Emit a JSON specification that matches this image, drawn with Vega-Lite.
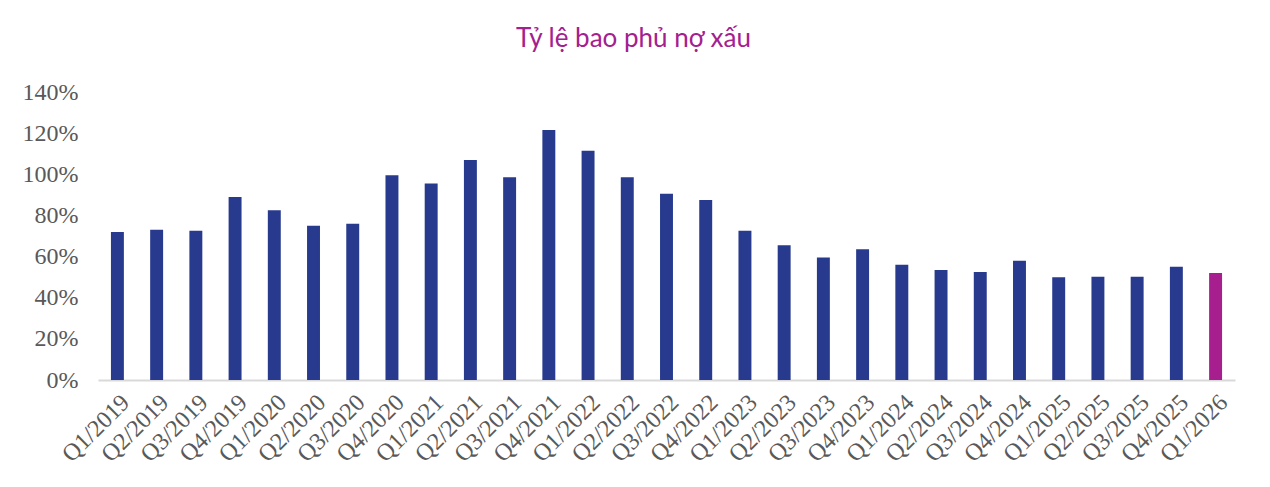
{
  "$schema": "https://vega.github.io/schema/vega-lite/v6.json",
  "width": 1137,
  "height": 288,
  "autosize": {"type": "none"},
  "padding": {"left": 98, "right": 35, "top": 92, "bottom": 107},
  "background": "white",
  "title": {
    "text": "Tỷ lệ bao phủ nợ xấu",
    "font": "Lato",
    "fontSize": 26,
    "fontWeight": "normal",
    "color": "#A4208F",
    "anchor": "middle",
    "dx": -33,
    "offset": 28
  },
  "data": {
    "values": [
      {"q": "Q1/2019", "v": 0.72, "hl": "n"},
      {"q": "Q2/2019", "v": 0.73, "hl": "n"},
      {"q": "Q3/2019", "v": 0.725, "hl": "n"},
      {"q": "Q4/2019", "v": 0.89, "hl": "n"},
      {"q": "Q1/2020", "v": 0.825, "hl": "n"},
      {"q": "Q2/2020", "v": 0.75, "hl": "n"},
      {"q": "Q3/2020", "v": 0.76, "hl": "n"},
      {"q": "Q4/2020", "v": 0.995, "hl": "n"},
      {"q": "Q1/2021", "v": 0.955, "hl": "n"},
      {"q": "Q2/2021", "v": 1.07, "hl": "n"},
      {"q": "Q3/2021", "v": 0.985, "hl": "n"},
      {"q": "Q4/2021", "v": 1.215, "hl": "n"},
      {"q": "Q1/2022", "v": 1.115, "hl": "n"},
      {"q": "Q2/2022", "v": 0.985, "hl": "n"},
      {"q": "Q3/2022", "v": 0.905, "hl": "n"},
      {"q": "Q4/2022", "v": 0.875, "hl": "n"},
      {"q": "Q1/2023", "v": 0.725, "hl": "n"},
      {"q": "Q2/2023", "v": 0.655, "hl": "n"},
      {"q": "Q3/2023", "v": 0.595, "hl": "n"},
      {"q": "Q4/2023", "v": 0.635, "hl": "n"},
      {"q": "Q1/2024", "v": 0.56, "hl": "n"},
      {"q": "Q2/2024", "v": 0.535, "hl": "n"},
      {"q": "Q3/2024", "v": 0.525, "hl": "n"},
      {"q": "Q4/2024", "v": 0.58, "hl": "n"},
      {"q": "Q1/2025", "v": 0.50, "hl": "n"},
      {"q": "Q2/2025", "v": 0.502, "hl": "n"},
      {"q": "Q3/2025", "v": 0.502, "hl": "n"},
      {"q": "Q4/2025", "v": 0.55, "hl": "n"},
      {"q": "Q1/2026", "v": 0.52, "hl": "y"}
    ]
  },
  "mark": {"type": "bar"},
  "encoding": {
    "x": {
      "field": "q",
      "type": "nominal",
      "sort": null,
      "scale": {"paddingInner": 0.67, "paddingOuter": 0.33},
      "axis": {
        "title": null,
        "labelAngle": -45,
        "labelAlign": "right",
        "labelBaseline": "top",
        "labelFont": "Liberation Serif",
        "labelFontSize": 24,
        "labelColor": "#595959",
        "labelPadding": 10,
        "ticks": false,
        "domainColor": "#D9D9D9",
        "domainWidth": 2,
        "grid": false
      }
    },
    "y": {
      "field": "v",
      "type": "quantitative",
      "scale": {"domain": [0, 1.4]},
      "axis": {
        "title": null,
        "values": [0, 0.2, 0.4, 0.6, 0.8, 1.0, 1.2, 1.4],
        "format": ".0%",
        "labelFont": "Liberation Serif",
        "labelFontSize": 24,
        "labelColor": "#595959",
        "labelPadding": 20,
        "ticks": false,
        "domain": false,
        "grid": false
      }
    },
    "color": {
      "field": "hl",
      "type": "nominal",
      "scale": {"domain": ["n", "y"], "range": ["#283A8E", "#A71F8F"]},
      "legend": null
    }
  },
  "config": {"view": {"stroke": null}}
}
